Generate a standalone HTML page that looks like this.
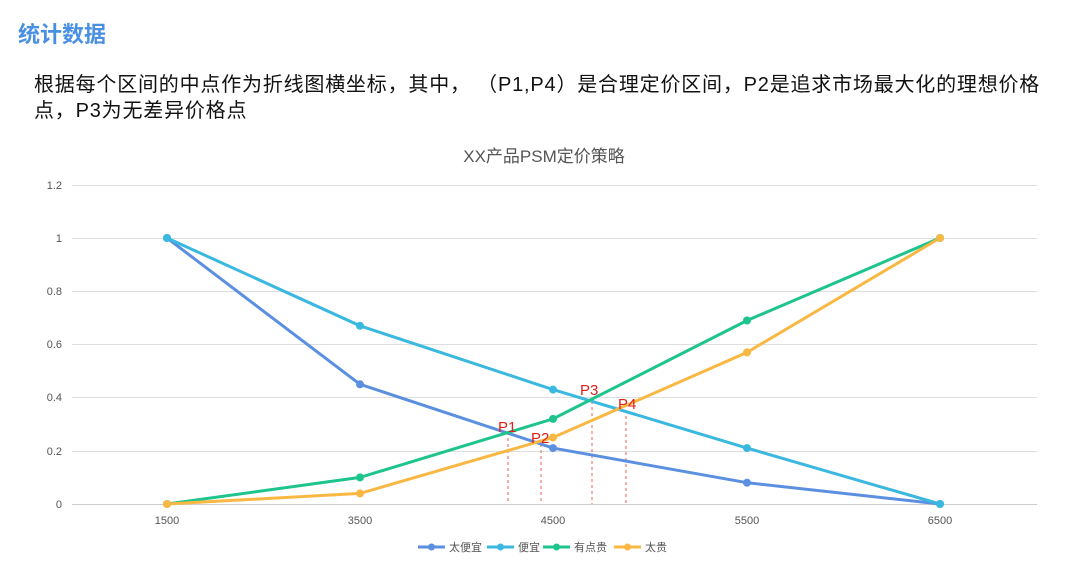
<!DOCTYPE html>
<html><head><meta charset="utf-8"><style>
body{margin:0;width:1080px;height:575px;background:#fff;overflow:hidden;font-family:"Liberation Sans","Noto Sans CJK SC",sans-serif;}
.t{position:absolute;left:18px;top:17px;font-size:22px;font-weight:bold;color:#4a90e2;}
.d{position:absolute;left:34px;top:72px;width:1046px;font-size:20px;line-height:26px;color:#111;white-space:nowrap;letter-spacing:0.8px;}
svg{position:absolute;left:0;top:0;}
</style></head><body>
<div class="t">统计数据</div>
<div class="d">根据每个区间的中点作为折线图横坐标，其中，&nbsp;（P1,P4）是合理定价区间，P2是追求市场最大化的理想价格<br>点，P3为无差异价格点</div>
<svg width="1080" height="575" font-family="Liberation Sans, Noto Sans CJK SC, sans-serif">
<text x="544" y="162" font-size="17" fill="#555" text-anchor="middle">XX产品PSM定价策略</text>
<g stroke="#dedede" stroke-width="1">
<line x1="72" x2="1037" y1="185.5" y2="185.5"/><line x1="72" x2="1037" y1="238.5" y2="238.5"/>
<line x1="72" x2="1037" y1="291.5" y2="291.5"/><line x1="72" x2="1037" y1="344.5" y2="344.5"/>
<line x1="72" x2="1037" y1="397.5" y2="397.5"/><line x1="72" x2="1037" y1="451.5" y2="451.5"/>
</g>
<line x1="72" x2="1037" y1="504.5" y2="504.5" stroke="#ccc"/>
<g font-size="11" fill="#555" text-anchor="end">
<text x="62" y="189">1.2</text><text x="62" y="242">1</text><text x="62" y="295">0.8</text>
<text x="62" y="348">0.6</text><text x="62" y="401">0.4</text><text x="62" y="455">0.2</text><text x="62" y="508">0</text>
</g>
<g font-size="11" fill="#555" text-anchor="middle">
<text x="167" y="524">1500</text><text x="360" y="524">3500</text><text x="553" y="524">4500</text>
<text x="747" y="524">5500</text><text x="940" y="524">6500</text>
</g>
<g stroke="#e8604c" stroke-width="1" stroke-dasharray="3,3">
<line x1="508" x2="508" y1="432" y2="504"/><line x1="541" x2="541" y1="444" y2="504"/>
<line x1="592" x2="592" y1="401" y2="504"/><line x1="626" x2="626" y1="410" y2="504"/>
</g>
<g fill="none" stroke-width="3">
<polyline stroke="#5b8fe0" points="167,238 360,384.3 553,448.1 747,482.7 940,504"/>
<polyline stroke="#3bb8e0" points="167,238 360,325.8 553,389.6 747,448.1 940,504"/>
<polyline stroke="#1dc48c" points="167,504 360,477.4 553,418.9 747,320.5 940,238"/>
<polyline stroke="#f9b843" points="167,504 360,493.4 553,437.5 747,352.4 940,238"/>
</g>
<g fill="#5b8fe0"><circle cx="167" cy="238" r="4"/><circle cx="360" cy="384.3" r="4"/><circle cx="553" cy="448.1" r="4"/><circle cx="747" cy="482.7" r="4"/><circle cx="940" cy="504" r="4"/></g>
<g fill="#3bb8e0"><circle cx="167" cy="238" r="4"/><circle cx="360" cy="325.8" r="4"/><circle cx="553" cy="389.6" r="4"/><circle cx="747" cy="448.1" r="4"/><circle cx="940" cy="504" r="4"/></g>
<g fill="#1dc48c"><circle cx="167" cy="504" r="4"/><circle cx="360" cy="477.4" r="4"/><circle cx="553" cy="418.9" r="4"/><circle cx="747" cy="320.5" r="4"/><circle cx="940" cy="238" r="4"/></g>
<g fill="#f9b843"><circle cx="167" cy="504" r="4"/><circle cx="360" cy="493.4" r="4"/><circle cx="553" cy="437.5" r="4"/><circle cx="747" cy="352.4" r="4"/><circle cx="940" cy="238" r="4"/></g>
<g font-size="15" fill="#e0201a">
<text x="498" y="432">P1</text><text x="531" y="443">P2</text><text x="580" y="395">P3</text><text x="618" y="409">P4</text>
</g>
<g font-size="11" fill="#555">
<line x1="418" x2="445" y1="547" y2="547" stroke="#5b8fe0" stroke-width="3"/><circle cx="431.5" cy="547" r="3.5" fill="#5b8fe0"/><text x="449" y="551">太便宜</text>
<line x1="487" x2="514" y1="547" y2="547" stroke="#3bb8e0" stroke-width="3"/><circle cx="500.5" cy="547" r="3.5" fill="#3bb8e0"/><text x="518" y="551">便宜</text>
<line x1="543" x2="570" y1="547" y2="547" stroke="#1dc48c" stroke-width="3"/><circle cx="556.5" cy="547" r="3.5" fill="#1dc48c"/><text x="574" y="551">有点贵</text>
<line x1="614" x2="641" y1="547" y2="547" stroke="#f9b843" stroke-width="3"/><circle cx="627.5" cy="547" r="3.5" fill="#f9b843"/><text x="645" y="551">太贵</text>
</g>
</svg>
</body></html>
